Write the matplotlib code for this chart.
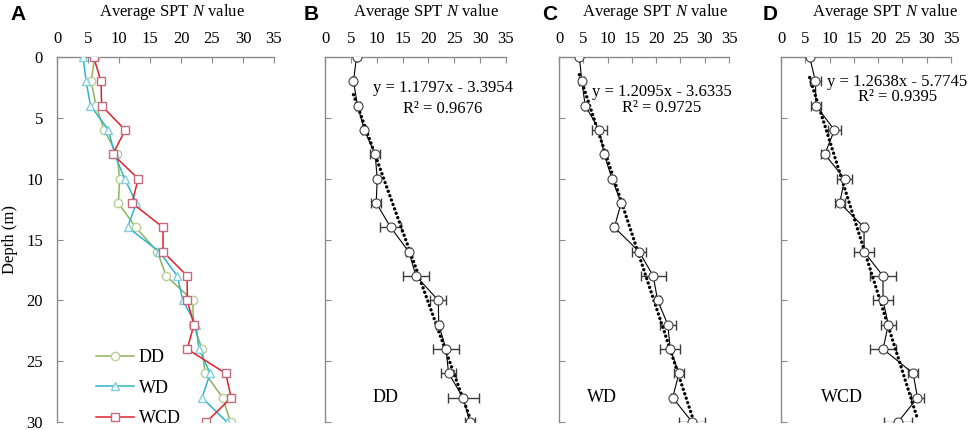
import numpy as np
import matplotlib
matplotlib.use("Agg")
import matplotlib.pyplot as plt

plt.rcParams['font.family'] = ['Liberation Serif', 'DejaVu Serif']
plt.rcParams['mathtext.fontset'] = 'custom'
plt.rcParams['mathtext.rm'] = 'Liberation Serif'
plt.rcParams['mathtext.it'] = 'Liberation Serif:italic'

depth = [0, 2, 4, 6, 8, 10, 12, 14, 16, 18, 20, 22, 24, 26, 28, 30]

dd_n = [6.1, 5.5, 6.3, 7.6, 9.7, 10.1, 9.9, 12.7, 16.2, 17.6, 21.9, 22.0, 23.4, 23.9, 26.7, 28.0]
dd_err = [0.0, 0.3, 0.4, 0.4, 1.0, 0.0, 1.0, 2.0, 0.5, 2.5, 1.5, 0.5, 2.5, 1.4, 3.0, 1.0]

wd_n = [4.2, 4.7, 5.4, 8.3, 9.3, 10.9, 12.8, 11.4, 16.5, 19.4, 20.3, 22.4, 22.9, 24.7, 23.4, 27.4]
wd_err = [0.0, 0.5, 0.3, 1.5, 0.5, 0.0, 0.3, 0.5, 1.4, 2.6, 0.5, 1.6, 2.1, 1.0, 0.4, 2.6]

wcd_n = [5.9, 7.1, 7.2, 11.0, 9.0, 13.1, 12.1, 17.1, 17.1, 21.0, 21.0, 22.1, 21.0, 27.2, 28.1, 24.1]
wcd_err = [0.0, 1.2, 1.0, 1.4, 0.7, 1.5, 1.0, 0.5, 2.0, 2.6, 2.1, 1.5, 2.6, 1.0, 1.4, 2.9]

fits = {
    "DD": (1.1797, -3.3954, 0.9676),
    "WD": (1.2095, -3.6335, 0.9725),
    "WCD": (1.2638, -5.7745, 0.9395),
}

x_ticks = [0, 5, 10, 15, 20, 25, 30, 35]
y_ticks = [0, 5, 10, 15, 20, 25, 30]

FS = 12
W, H = 969, 430
fig = plt.figure(figsize=(W / 100, H / 100), dpi=100)

def px_axes(x0, x1, y0=57, y1=422):
    return fig.add_axes([x0 / W, 1 - y1 / H, (x1 - x0) / W, (y1 - y0) / H])

axA = px_axes(57, 274)
axB = px_axes(325, 506)
axC = px_axes(559, 729)
axD = px_axes(781, 951)

spine_col = '#8a8a8a'

def style(ax, show_ylabels):
    ax.set_xlim(0, 35)
    ax.set_ylim(30, 0)
    ax.set_xticks(x_ticks)
    ax.set_yticks(y_ticks)
    ax.xaxis.tick_top()
    ax.spines['right'].set_visible(False)
    ax.spines['bottom'].set_visible(False)
    for s in ('top', 'left'):
        ax.spines[s].set_color(spine_col)
        ax.spines[s].set_linewidth(1.0)
    ax.tick_params(axis='x', direction='in', length=4, color=spine_col,
                   labelsize=FS, pad=7, top=True, bottom=False)
    ax.tick_params(axis='y', direction='in', length=4, color=spine_col,
                   labelsize=FS, pad=10, left=True, right=False,
                   labelleft=show_ylabels)
    ax.patch.set_alpha(0)

for ax in (axA, axB, axC, axD):
    style(ax, ax is axA)

axA.set_ylabel("Depth (m)", fontsize=FS, labelpad=6)

# Panel A
axA.plot(dd_n, depth, color='#8db35c', lw=1.1, marker='o', ms=6,
         mfc='white', mec='#b8d098', mew=1.0, label='DD', zorder=3)
axA.plot(wd_n, depth, color='#2db4cc', lw=1.1, marker='^', ms=6,
         mfc='white', mec='#7fd0de', mew=1.0, label='WD', zorder=3)
axA.plot(wcd_n, depth, color='#e3202c', lw=1.1, marker='s', ms=6,
         mfc='white', mec='#c46a7c', mew=1.0, label='WCD', zorder=3)
leg = axA.legend(loc='upper left', bbox_to_anchor=(0.18, 0.2), frameon=False,
                 fontsize=13, handlelength=2.1, handletextpad=0.25,
                 labelspacing=0.75, borderpad=0, borderaxespad=0, numpoints=1)

panels = [
    (axB, dd_n, dd_err, "DD", 0.337, 22.8, 2.55, 4.3),
    (axC, wd_n, wd_err, "WD", 0.253, 21.2, 2.9, 4.2),
    (axD, wcd_n, wcd_err, "WCD", 0.36, 23.9, 2.05, 3.3),
]
for ax, n, err, name, lx, ex, ey1, ey2 in panels:
    ax.errorbar(n, depth, xerr=err, fmt='none', ecolor='#3c3c3c', elinewidth=1.0,
                capsize=3.5, capthick=1.0, zorder=2)
    ax.plot(n, depth, color='black', lw=0.8, marker='o', ms=6.5, mfc='white',
            mec='#404040', mew=0.8, zorder=4)
    a, b, r2 = fits[name]
    nn = np.array([min(n), max(n)])
    ax.plot(nn, a * nn + b, color='black', lw=2.4, linestyle=(0, (0.05, 1.35)),
            dash_capstyle='round', zorder=3)
    ax.text(ex, ey1, f"y = {a:.4f}x - {abs(b):.4f}", ha='center', va='center',
            fontsize=FS)
    ax.text(ex, ey2, f"R² = {r2:.4f}", ha='center', va='center', fontsize=FS)
    ax.text(lx, (422 - 397) / 365, name, transform=ax.transAxes, ha='center',
            va='center', fontsize=13)

title_x = [(axA, 0.53), (axB, 0.558), (axC, 0.565), (axD, 0.61)]
for ax, tx in title_x:
    ax.text(tx, 1 + (57 - 12) / 365, r"Average SPT $\it{N}$ value",
            transform=ax.transAxes, ha='center', va='center', fontsize=FS)

for lab, x in [("A", 18), ("B", 311), ("C", 550), ("D", 770)]:
    fig.text(x / W, 1 - 14 / H, lab, fontsize=15, fontweight='bold',
             family=['Liberation Sans', 'DejaVu Sans'], ha='center', va='center')

fig.savefig("out.png", dpi=100)
